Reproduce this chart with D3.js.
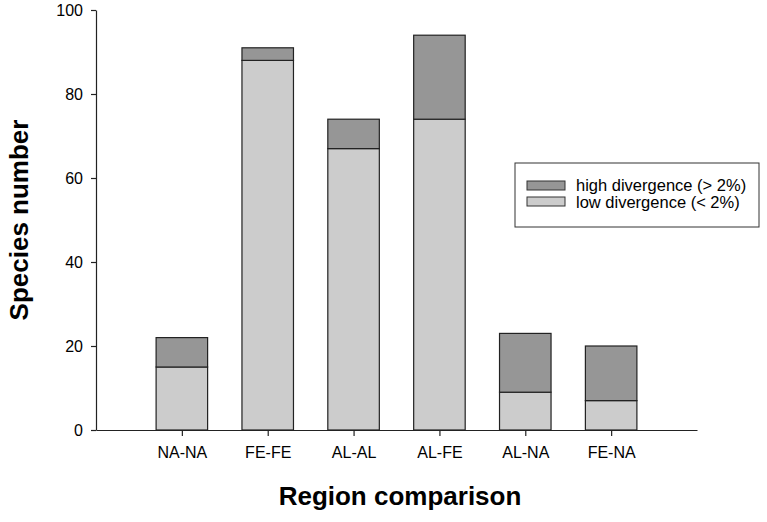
<!DOCTYPE html>
<html lang="en">
<head>
  <meta charset="UTF-8" />
  <title>Species number by region comparison</title>
  <style>
    body, html { margin: 0; padding: 0; background: white; }
    svg text { font-family: "Liberation Sans", Arial, Helvetica, sans-serif; fill: black; }
    .axis path, .axis line { stroke: #222; stroke-width: 1.2; }
    .axis text { font-size: 16px; }
    .axis-label { font-size: 26px; font-weight: bold; }
    .legend text { font-size: 16.5px; }
  </style>
</head>
<body>
  <div id="chart"></div>
  <script src="https://cdn.jsdelivr.net/npm/d3@7"></script>
  <script>
    // data
    const regions = ["NA-NA", "FE-FE", "AL-AL", "AL-FE", "AL-NA", "FE-NA"];
    const lowDivergence = [15, 88, 67, 74, 9, 7];
    const highDivergence = [7, 3, 7, 20, 14, 13];
    const yTicks = [0, 20, 40, 60, 80, 100];
    const seriesNames = ["high divergence (> 2%)", "low divergence (< 2%)"];
    const seriesColors = ["#969696", "#cccccc"];

    const w = 767, h = 522;
    const margin = { top: 10, left: 96, right: 70, bottom: 92 };
    const width = w - margin.left - margin.right;
    const height = h - margin.top - margin.bottom;

    const svg = d3.select("#chart").append("svg")
      .attr("width", w)
      .attr("height", h);

    const chart = svg.append("g")
      .attr("transform", "translate(" + margin.left + "," + margin.top + ")");

    // categories sit at positions 1..6 on a 0..7 axis
    const x = d3.scaleLinear()
      .domain([0, regions.length + 1])
      .range([0, width]);
    const slot = x(1) - x(0);
    const barW = slot * 0.6;

    const y = d3.scaleLinear()
      .domain([0, 100])
      .range([height, 0]);

    const data = regions.map((r, i) => ({
      region: r,
      pos: i + 1,
      low: lowDivergence[i],
      high: highDivergence[i]
    }));

    // low part
    chart.selectAll(".low")
      .data(data)
      .enter()
      .append("rect")
      .attr("class", "low")
      .attr("x", d => x(d.pos) - barW / 2)
      .attr("y", d => y(d.low))
      .attr("width", barW)
      .attr("height", d => y(0) - y(d.low))
      .style("fill", seriesColors[1])
      .style("stroke", "#222")
      .style("stroke-width", 1.2);

    // high part stacked on top
    chart.selectAll(".high")
      .data(data)
      .enter()
      .append("rect")
      .attr("class", "high")
      .attr("x", d => x(d.pos) - barW / 2)
      .attr("y", d => y(d.low + d.high))
      .attr("width", barW)
      .attr("height", d => y(d.low) - y(d.low + d.high))
      .style("fill", seriesColors[0])
      .style("stroke", "#222")
      .style("stroke-width", 1.2);

    const xAxis = d3.axisBottom(x)
      .tickValues(data.map(d => d.pos))
      .tickFormat((d, i) => regions[i])
      .tickSizeInner(6)
      .tickSizeOuter(0)
      .tickPadding(8);

    const yAxis = d3.axisLeft(y)
      .tickValues(yTicks)
      .tickSizeInner(5)
      .tickSizeOuter(0)
      .tickPadding(8);

    chart.append("g")
      .attr("class", "x axis")
      .attr("transform", "translate(0," + height + ")")
      .call(xAxis)
      .selectAll("text")
      .attr("dy", "0.9em");

    chart.append("g")
      .attr("class", "y axis")
      .call(yAxis);

    // axis titles
    svg.append("text")
      .attr("class", "axis-label")
      .attr("text-anchor", "middle")
      .attr("x", 400)
      .attr("y", 505)
      .text("Region comparison");

    svg.append("text")
      .attr("class", "axis-label")
      .attr("text-anchor", "middle")
      .attr("transform", "translate(28," + (margin.top + height / 2) + ") rotate(-90)")
      .text("Species number");

    // legend
    const legend = svg.append("g").attr("class", "legend");
    legend.append("rect")
      .attr("x", 515)
      .attr("y", 163)
      .attr("width", 244)
      .attr("height", 64)
      .style("fill", "white")
      .style("stroke", "#333")
      .style("stroke-width", 1);

    seriesNames.forEach((name, i) => {
      legend.append("rect")
        .attr("x", 527)
        .attr("y", 181 + i * 16)
        .attr("width", 38)
        .attr("height", 9)
        .style("fill", seriesColors[i])
        .style("stroke", "#333")
        .style("stroke-width", 1);
      legend.append("text")
        .attr("x", 576)
        .attr("y", 191 + i * 17)
        .text(name);
    });
  </script>
</body>
</html>
